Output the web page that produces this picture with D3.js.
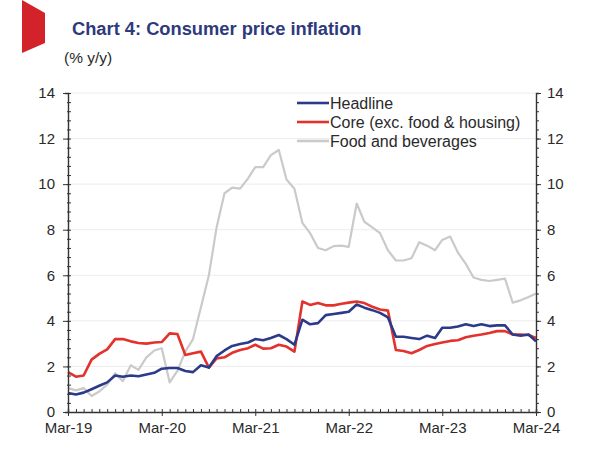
<!DOCTYPE html>
<html>
<head>
<meta charset="utf-8">
<script src="https://cdn.jsdelivr.net/npm/d3@7"></script>
<style>
  body { margin: 0; background: #fff; }
  svg { display: block; font-family: "Liberation Sans", Arial, sans-serif; }
</style>
</head>
<body>
<div id="chart"></div>
<script>
// Monthly data, Mar-19 to Mar-24
const startMonth = new Date(2019, 2, 1);
const headline = [0.83, 0.77, 0.85, 1.0, 1.15, 1.3, 1.6, 1.55, 1.6, 1.57, 1.65, 1.72,
  1.9, 1.93, 1.93, 1.8, 1.75, 2.05, 1.95, 2.45, 2.7, 2.9, 2.98, 3.05,
  3.2, 3.15, 3.25, 3.38, 3.2, 2.95, 4.05, 3.85, 3.9, 4.25, 4.3, 4.35,
  4.4, 4.72, 4.58, 4.47, 4.35, 4.15, 3.3, 3.3, 3.25, 3.2, 3.35, 3.25,
  3.7, 3.7, 3.75, 3.85, 3.77, 3.85, 3.77, 3.8, 3.8, 3.4, 3.35, 3.4, 3.1];
const core = [1.75, 1.55, 1.6, 2.3, 2.55, 2.75, 3.2, 3.2, 3.1, 3.03, 3.0, 3.05,
  3.07, 3.45, 3.42, 2.5, 2.58, 2.65, 1.95, 2.35, 2.4, 2.6, 2.72, 2.8,
  2.95, 2.78, 2.8, 2.95, 2.87, 2.65, 4.85, 4.7, 4.78, 4.68, 4.68, 4.75,
  4.8, 4.85, 4.78, 4.62, 4.5, 4.45, 2.72, 2.68, 2.58, 2.72, 2.9, 2.98,
  3.05, 3.12, 3.15, 3.28, 3.35, 3.4, 3.47, 3.55, 3.55, 3.4, 3.4, 3.38, 3.25];
const food = [1.05, 0.95, 1.05, 0.7, 0.9, 1.2, 1.7, 1.35, 2.05, 1.85, 2.4, 2.7,
  2.8, 1.3, 1.8, 2.65, 3.2, 4.6, 6.0, 8.1, 9.6, 9.85, 9.8, 10.25,
  10.75, 10.75, 11.27, 11.5, 10.2, 9.8, 8.3, 7.85, 7.2, 7.1, 7.28, 7.3,
  7.25, 9.15, 8.35, 8.1, 7.85, 7.1, 6.65, 6.65, 6.75, 7.45, 7.3, 7.1,
  7.55, 7.7, 7.0, 6.5, 5.9, 5.8, 5.75, 5.8, 5.85, 4.8, 4.9, 5.05, 5.2];

const xTickLabels = ["Mar-19", "Mar-20", "Mar-21", "Mar-22", "Mar-23", "Mar-24"];
const yTicks = [0, 2, 4, 6, 8, 10, 12, 14];
const seriesNames = ["Headline", "Core (exc. food & housing)", "Food and beverages"];
const seriesColors = ["#2c3a8a", "#e3312b", "#cacaca"];

const width = 592;
const height = 457;
const margin = { top: 93, right: 56, bottom: 45, left: 68 };

const svg = d3.select("#chart").append("svg")
  .attr("width", width)
  .attr("height", height);

const dates = headline.map((d, i) => d3.timeMonth.offset(startMonth, i));

const x = d3.scaleTime()
  .domain([dates[0], dates[dates.length - 1]])
  .range([margin.left, width - margin.right]);

const y = d3.scaleLinear()
  .domain([0, 14])
  .range([height - margin.bottom, margin.top]);

// red tab top-left
svg.append("path")
  .attr("d", "M22,0 L45,13 L45,43 L22,53 Z")
  .attr("fill", "#d3222a");

svg.append("text")
  .attr("x", 72)
  .attr("y", 35)
  .attr("fill", "#2d3a7c")
  .style("font-size", "18.3px")
  .style("font-weight", "bold")
  .text("Chart 4: Consumer price inflation");

svg.append("text")
  .attr("x", 64)
  .attr("y", 63)
  .attr("fill", "#2a2a2a")
  .style("font-size", "15.5px")
  .text("(% y/y)");

// gridlines
svg.append("g")
  .selectAll("line")
  .data(yTicks.slice(1))
  .join("line")
  .attr("x1", margin.left)
  .attr("x2", width - margin.right)
  .attr("y1", (d) => y(d))
  .attr("y2", (d) => y(d))
  .attr("stroke", "#ececec")
  .attr("stroke-width", 1);

// lines
const line = d3.line()
  .x((d, i) => x(dates[i]))
  .y((d) => y(d));

[food, core, headline].forEach((s, k) => {
  const idx = 2 - k;
  svg.append("path")
    .datum(s)
    .attr("fill", "none")
    .attr("stroke", seriesColors[idx])
    .attr("stroke-width", idx === 2 ? 2.2 : 2.6)
    .attr("stroke-linejoin", "round")
    .attr("d", line);
});

// axes
const minorY = d3.range(0, 14.01, 0.4);
svg.append("g")
  .attr("transform", `translate(${margin.left},0)`)
  .call(d3.axisLeft(y).tickValues(minorY).tickSize(3).tickFormat(""))
  .call((g) => g.selectAll(".tick line").attr("x2", 3).attr("x1", -1));
svg.append("g")
  .attr("transform", `translate(${margin.left},0)`)
  .call(d3.axisLeft(y).tickValues(yTicks).tickSize(5).tickPadding(8))
  .call((g) => g.select(".domain").remove())
  .selectAll("text")
  .style("font-size", "15px")
  .attr("fill", "#2a2a2a");

svg.append("g")
  .attr("transform", `translate(${width - margin.right},0)`)
  .call(d3.axisRight(y).tickValues(minorY).tickSize(3).tickFormat(""));
svg.append("g")
  .attr("transform", `translate(${width - margin.right},0)`)
  .call(d3.axisRight(y).tickValues(yTicks).tickSize(5).tickPadding(6))
  .call((g) => g.select(".domain").remove())
  .selectAll("text")
  .style("font-size", "15px")
  .attr("fill", "#2a2a2a");

svg.append("g")
  .attr("transform", `translate(0,${height - margin.bottom})`)
  .call(d3.axisBottom(x).tickValues(dates).tickSize(-3).tickFormat(""));
const yearDates = xTickLabels.map((d, i) => d3.timeMonth.offset(startMonth, i * 12));
svg.append("g")
  .attr("transform", `translate(0,${height - margin.bottom})`)
  .call(d3.axisBottom(x).tickValues(yearDates).tickSize(4).tickPadding(6)
    .tickFormat((d, i) => xTickLabels[i]))
  .call((g) => g.select(".domain").remove())
  .selectAll("text")
  .style("font-size", "15px")
  .attr("fill", "#2a2a2a");

svg.selectAll(".domain").attr("stroke", "#333").attr("stroke-width", 1.4);
svg.selectAll(".tick line").attr("stroke", "#333");

// legend
const legend = svg.append("g").attr("transform", "translate(297,103)");
seriesNames.forEach((name, i) => {
  const g = legend.append("g").attr("transform", `translate(0,${i * 19})`);
  g.append("line")
    .attr("x1", 0).attr("x2", 32)
    .attr("stroke", seriesColors[i])
    .attr("stroke-width", 2.6);
  g.append("text")
    .attr("x", 33)
    .attr("dy", "0.35em")
    .attr("fill", "#2a2a2a")
    .style("font-size", "16px")
    .text(name);
});
</script>
</body>
</html>
